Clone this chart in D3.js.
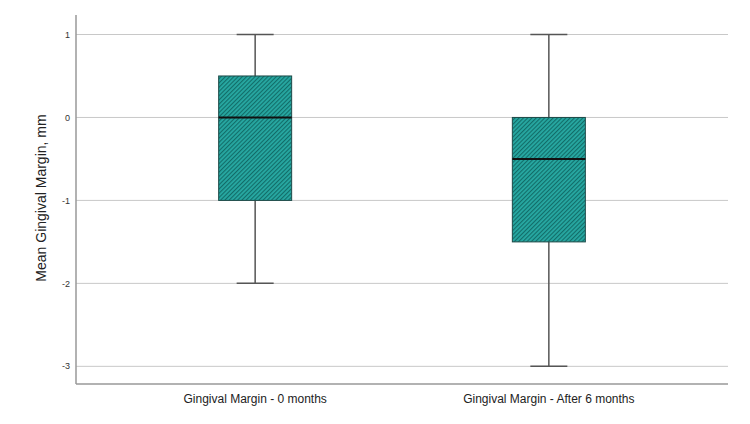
<!DOCTYPE html>
<html>
<head>
<meta charset="utf-8">
<script src="https://cdn.jsdelivr.net/npm/d3@7"></script>
<style>
  body { margin: 0; background: #fff; }
  text { font-family: Arial, "Liberation Sans", sans-serif; }
</style>
</head>
<body>
<svg id="chart" width="750" height="424"></svg>
<script>
// data
var categories = ["Gingival Margin - 0 months", "Gingival Margin - After 6 months"];
var whiskerLow = [-2, -3];
var q1 = [-1, -1.5];
var median = [0, -0.5];
var q3 = [0.5, 0];
var whiskerHigh = [1, 1];
var yTicks = [1, 0, -1, -2, -3];

var svg = d3.select("#chart");
var plotLeft = 76, plotRight = 728, plotTop = 15, plotBottom = 384;

var y = d3.scaleLinear().domain([-3.213, 1.235]).range([plotBottom, plotTop]);
var x = d3.scalePoint().domain(categories).range([plotLeft, plotRight]).padding(0.61);

var boxW = 73, capW = 37;

// hatch pattern
var defs = svg.append("defs");
var pat = defs.append("pattern")
  .attr("id", "hatch")
  .attr("patternUnits", "userSpaceOnUse")
  .attr("width", 3).attr("height", 3)
  .attr("patternTransform", "rotate(45)");
pat.append("rect").attr("width", 3).attr("height", 3).attr("fill", "#27a8a2");
pat.append("line").attr("x1", 0.5).attr("y1", 0).attr("x2", 0.5).attr("y2", 3)
  .attr("stroke", "#126c68").attr("stroke-width", 1.2);

// gridlines
svg.append("g").selectAll("line").data(yTicks).enter().append("line")
  .attr("x1", plotLeft).attr("x2", plotRight)
  .attr("y1", d => y(d)).attr("y2", d => y(d))
  .attr("stroke", "#c8c8c8").attr("stroke-width", 1);

// y tick labels
svg.append("g").selectAll("text").data(yTicks).enter().append("text")
  .attr("x", 70).attr("y", d => y(d))
  .attr("dy", "0.35em")
  .attr("text-anchor", "end")
  .attr("font-size", 9)
  .attr("fill", "#333")
  .text(d => d);

// axes lines
svg.append("line").attr("x1", plotLeft).attr("x2", plotLeft).attr("y1", plotTop).attr("y2", plotBottom)
  .attr("stroke", "#999").attr("stroke-width", 1.5);
svg.append("line").attr("x1", plotLeft).attr("x2", plotRight).attr("y1", plotBottom).attr("y2", plotBottom)
  .attr("stroke", "#999").attr("stroke-width", 1.5);

// y title
svg.append("text")
  .attr("transform", "translate(46,198) rotate(-90)")
  .attr("text-anchor", "middle")
  .attr("font-size", 14)
  .attr("fill", "#222")
  .text("Mean Gingival Margin, mm");

// x labels
svg.append("g").selectAll("text").data(categories).enter().append("text")
  .attr("x", d => x(d)).attr("y", 403)
  .attr("text-anchor", "middle")
  .attr("font-size", 12)
  .attr("fill", "#222")
  .text(d => d);

// boxes
var g = svg.append("g").selectAll("g").data(categories).enter().append("g");

g.append("line")
  .attr("x1", d => x(d)).attr("x2", d => x(d))
  .attr("y1", (d, i) => y(whiskerHigh[i])).attr("y2", (d, i) => y(q3[i]))
  .attr("stroke", "#555").attr("stroke-width", 1.5);
g.append("line")
  .attr("x1", d => x(d)).attr("x2", d => x(d))
  .attr("y1", (d, i) => y(q1[i])).attr("y2", (d, i) => y(whiskerLow[i]))
  .attr("stroke", "#555").attr("stroke-width", 1.5);
g.append("line")
  .attr("x1", d => x(d) - capW / 2).attr("x2", d => x(d) + capW / 2)
  .attr("y1", (d, i) => y(whiskerHigh[i])).attr("y2", (d, i) => y(whiskerHigh[i]))
  .attr("stroke", "#555").attr("stroke-width", 1.5);
g.append("line")
  .attr("x1", d => x(d) - capW / 2).attr("x2", d => x(d) + capW / 2)
  .attr("y1", (d, i) => y(whiskerLow[i])).attr("y2", (d, i) => y(whiskerLow[i]))
  .attr("stroke", "#555").attr("stroke-width", 1.5);

g.append("rect")
  .attr("x", d => x(d) - boxW / 2).attr("width", boxW)
  .attr("y", (d, i) => y(q3[i]))
  .attr("height", (d, i) => y(q1[i]) - y(q3[i]))
  .attr("fill", "url(#hatch)")
  .attr("stroke", "#1d4a48").attr("stroke-width", 1);

g.append("line")
  .attr("x1", d => x(d) - boxW / 2).attr("x2", d => x(d) + boxW / 2)
  .attr("y1", (d, i) => y(median[i])).attr("y2", (d, i) => y(median[i]))
  .attr("stroke", "#111").attr("stroke-width", 2);
</script>
</body>
</html>
